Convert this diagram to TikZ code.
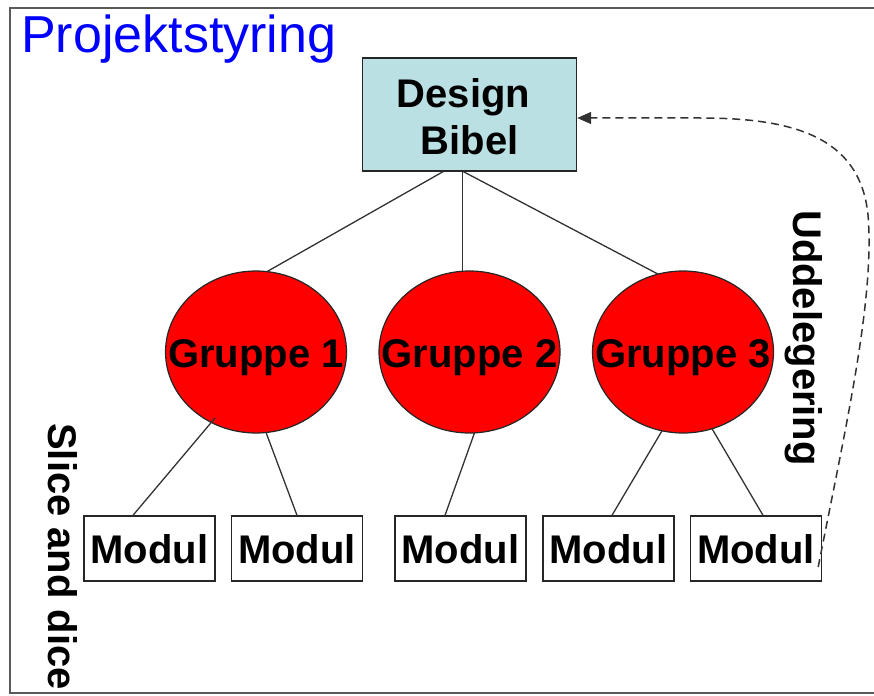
\documentclass[tikz,border=0pt]{standalone}
\usepackage{fontspec}
\setmainfont{Liberation Sans}
\usetikzlibrary{shapes.geometric,arrows.meta,calc}
\definecolor{bibelblue}{RGB}{187,224,227}
\definecolor{titleblue}{RGB}{0,0,255}
\definecolor{linegray}{RGB}{50,50,50}
\definecolor{framegray}{RGB}{90,90,90}
\begin{document}
\begin{tikzpicture}[x=1pt,y=-1pt,
  bigtext/.style={font=\fontsize{40}{47}\selectfont\bfseries},
  bibelbox/.style={rectangle, draw=black!85, line width=1.4pt, fill=bibelblue,
    minimum width=214pt, minimum height=113pt, inner sep=0pt},
  gruppe/.style={ellipse, draw=black!85, line width=1.2pt, fill=red,
    minimum width=181pt, minimum height=162pt, inner sep=0pt,
    text height=30pt, text depth=0pt, bigtext},
  modul/.style={rectangle, draw=black!85, line width=1.4pt, fill=white,
    minimum width=131pt, minimum height=65pt, inner sep=0pt,
    text height=29pt, text depth=0pt, bigtext},
  sidelabel/.style={rotate=-90, anchor=base west, inner sep=0pt, bigtext},
  conn/.style={draw=linegray, line width=1.3pt},
  deleg/.style={draw=linegray, line width=1.5pt, dash pattern=on 8pt off 5pt,
    -{Triangle[length=14pt,width=12pt]}}]

\useasboundingbox (0,0) rectangle (874,695);

% outer frame
\draw[framegray, line width=1.6pt] (10,8) rectangle (890,693);

% title
\node[anchor=base west, inner sep=0pt, text=titleblue,
  font=\fontsize{52}{62}\selectfont] (title) at (21,53) {Projektstyring};

% design bible
\node[bibelbox] (db) at (469.5,114.5) {};
\node[bigtext, anchor=base, inner sep=0pt] (dbline1) at (463.5,108) {Design};
\node[bigtext, anchor=base, inner sep=0pt] (dbline2) at (469.5,155) {Bibel};

% groups
\node[gruppe] (g1) at (256,352) {\makebox[0pt]{Gruppe 1}};
\node[gruppe] (g2) at (469.5,352) {\makebox[0pt]{Gruppe 2}};
\node[gruppe] (g3) at (683,352) {\makebox[0pt]{Gruppe 3}};

% modules
\node[modul] (m1) at (149.5,548.5) {Modul};
\node[modul] (m2) at (297,548.5) {Modul};
\node[modul] (m3) at (460.5,548.5) {Modul};
\node[modul] (m4) at (608.5,548.5) {Modul};
\node[modul] (m5) at (756,548.5) {Modul};

% tree connectors
\draw[conn] ($(db.south)+(-26.5,0)$) -- ($(g1.center)+(11,-80.4)$);
\draw[conn] ($(db.south)+(-7,0)$) -- ($(g2.center)+(-7,-80.8)$);
\draw[conn] ($(db.south)+(-6,0)$) -- ($(g3.center)+(-25,-77.9)$);
\draw[conn] ($(g1.center)+(-41,66)$) -- ($(m1.north)+(-16.5,0)$);
\draw[conn] ($(g1.center)+(10,80.4)$) -- (m2.north);
\draw[conn] ($(g2.center)+(5,80.8)$) -- ($(m3.north)+(-15.5,0)$);
\draw[conn] ($(g3.center)+(-21,78.8)$) -- ($(m4.north)+(3.5,0)$);
\draw[conn] ($(g3.center)+(29,76.7)$) -- ($(m5.north)+(7,0)$);

% delegation back to the design bible
\draw[deleg] ($(m5.east)+(-4,18.5)$)
  .. controls (845,430) and (875,300) .. (868,215)
  .. controls (860,135) and (790,118) .. (700,118)
  -- ($(db.east)+(0,3.5)$);

% side labels
\node[sidelabel] (udd) at (793,210) {Uddelegering};
\node[sidelabel] (slice) at (48,423) {Slice and dice};

\end{tikzpicture}
\end{document}
